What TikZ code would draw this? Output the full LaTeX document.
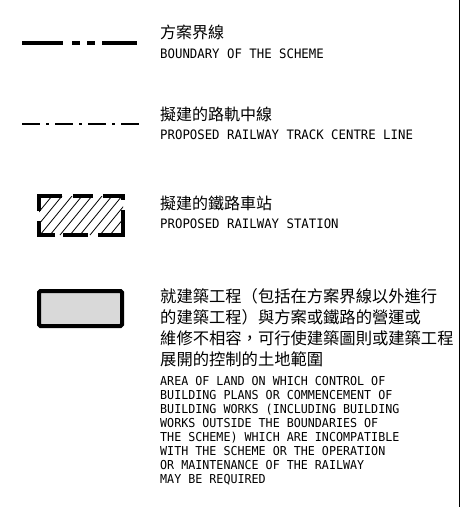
\documentclass[tikz,border=0pt]{standalone}
\usepackage{fontspec}
\newfontfamily\cjk{Noto Sans CJK TC}
\newfontfamily\cad[FakeStretch=0.95]{DejaVu Sans Mono}
\definecolor{landgray}{HTML}{D9D9D9}
\tikzset{
  cntext/.style={anchor=base west, inner sep=0pt, font=\cjk\fontsize{16}{16}\selectfont},
  entext/.style={anchor=base west, inner sep=0pt, font=\cad\fontsize{13}{13}\selectfont},
  paracn/.style={anchor=base west, inner sep=0pt, font=\cjk\fontsize{16.3}{16.3}\selectfont},
  paraen/.style={anchor=base west, inner sep=0pt, font=\cad\fontsize{12.3}{12.3}\selectfont},
  boundaryline/.style={line width=4pt, dash pattern=on 41pt off 9pt on 8pt off 7pt on 8pt off 7pt on 35pt},
  trackline/.style={line width=2.5pt, dash pattern=on 18pt off 6pt on 3pt off 6pt},
  stationedge/.style={line width=4pt, line join=miter},
  hatchline/.style={line width=0.8pt},
}
\begin{document}
\begin{tikzpicture}[x=1pt,y=-1pt]
    \useasboundingbox (0,0) rectangle (462,507);
    % Frame line on the right
    \coordinate (rtop) at (459.5,0);
    \coordinate (rbot) at (459.5,507);
    \draw[line width=1.3pt] (rtop) -- (rbot);
    % Boundary of the scheme
    \coordinate (bl) at (22,43);
    \coordinate (br) at (137,43);
    \draw[boundaryline] (bl) -- (br);
    \node[cntext] (bcn) at (160,38.5) {方案界線};
    \node[entext] (ben) at (160,58) {BOUNDARY OF THE SCHEME};
    % Proposed railway track centre line
    \coordinate (tl) at (22,124);
    \coordinate (tr) at (139,124);
    \draw[trackline] (tl) -- (tr);
    \node[cntext] (tcn) at (160,120.5) {擬建的路軌中線};
    \node[entext] (ten) at (160,139.5) {PROPOSED RAILWAY TRACK CENTRE LINE};
    % Proposed railway station
    \begin{scope}
        \clip (39,196) rectangle (123,235);
        \foreach \x in {-30,-20,...,120}
            \draw[hatchline] (\x,235) -- (\x+32,196);
    \end{scope}
    \draw[stationedge] (39,211) -- (39,196) -- (62,196);
    \draw[stationedge] (73,196) -- (93,196);
    \draw[stationedge] (103,196) -- (123,196) -- (123,200);
    \draw[stationedge] (123,210) -- (123,235) -- (98,235);
    \draw[stationedge] (88,235) -- (63,235);
    \draw[stationedge] (55,235) -- (39,235) -- (39,221);
    \node[cntext] (scn) at (160,209.5) {擬建的鐵路車站};
    \node[entext] (sen) at (160,228) {PROPOSED RAILWAY STATION};
    % Area of land under building control
    \node[draw, line width=4pt, fill=landgray, rounded corners=1.5pt,
          minimum width=83pt, minimum height=35pt, inner sep=0pt] (landbox) at (80.5,308.5) {};
    \foreach \ln [count=\i] in {就建築工程（包括在方案界線以外進行,
                               的建築工程）與方案或鐵路的營運或,
                               維修不相容，可行使建築圖則或建築工程,
                               展開的控制的土地範圍}
        \node[paracn] (lcn\i) at (160,{302+21.3*(\i-1)}) {\ln};
    \foreach \ln [count=\i] in {AREA OF LAND ON WHICH CONTROL OF,
                               BUILDING PLANS OR COMMENCEMENT OF,
                               BUILDING WORKS (INCLUDING BUILDING,
                               WORKS OUTSIDE THE BOUNDARIES OF,
                               THE SCHEME) WHICH ARE INCOMPATIBLE,
                               WITH THE SCHEME OR THE OPERATION,
                               OR MAINTENANCE OF THE RAILWAY,
                               MAY BE REQUIRED}
        \node[paraen] (len\i) at (160,{385+14*(\i-1)}) {\ln};
\end{tikzpicture}
\end{document}
